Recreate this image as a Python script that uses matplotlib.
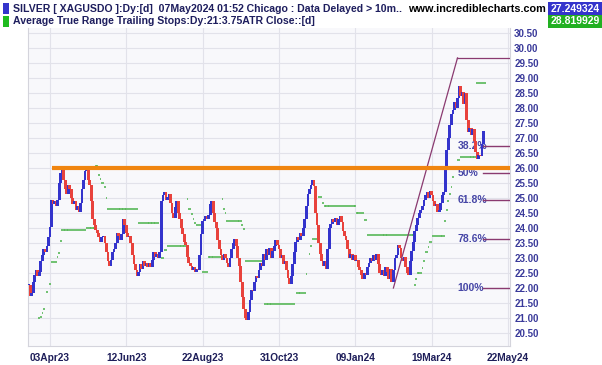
import matplotlib
matplotlib.use("Agg")
import matplotlib.pyplot as plt
from matplotlib.patches import Rectangle
import numpy as np

plt.rcParams['font.family'] = ['Liberation Sans', 'DejaVu Sans']

# ---------------- data ----------------
first_bar = -14  # bar index of first close (relative to 03Apr23 bar)
closes = [
    22.1, 21.75, 21.85, 22.2, 22.45, 22.6, 22.4, 22.55, 22.9, 23.1, 23.3, 23.2, 23.4, 23.7,          # -14..-1
    24.05, 24.95, 24.8, 24.9, 24.75, 24.95, 25.5, 25.85, 25.95, 25.6, 25.3, 25.15, 25.45, 25.3,   # 0..13
    25.0, 24.8, 24.9, 24.6, 24.75, 24.55, 24.85, 25.3, 25.6, 25.9, 26.0, 25.6, 25.45, 24.9,       # 14..27
    24.3, 24.1, 23.95, 23.85, 23.7, 23.55, 23.7, 23.75, 23.5, 23.2, 22.9, 22.75, 22.95, 23.2,     # 28..41
    23.3, 23.5, 23.85, 23.75, 23.6, 23.8, 24.3, 24.1, 23.85, 23.7, 23.75, 23.5, 23.1, 22.8,       # 42..55
    22.6, 22.4, 22.55, 22.8, 22.65, 22.9, 22.75, 22.85, 22.7, 22.85, 22.7, 22.95, 23.2, 23.05,    # 56..69
    23.15, 23.0, 23.2, 24.9, 25.1, 25.2, 24.95, 25.05, 25.15, 24.85, 24.5, 24.35, 24.7, 24.9,     # 70..83
    24.5, 24.3, 24.0, 23.8, 23.55, 23.45, 23.05, 22.85, 22.75, 22.6, 22.7, 22.55, 22.65, 22.6,    # 84..97
    23.1, 23.8, 24.25, 24.3, 24.4, 24.3, 24.45, 24.8, 24.9, 24.5, 24.2, 24.0, 23.6, 23.3,         # 98..111
    23.1, 22.95, 23.15, 23.0, 22.85, 22.7, 23.0, 23.3, 23.5, 23.65, 23.4, 23.0, 22.75, 22.2,      # 112..125
    21.7, 21.3, 21.0, 20.95, 21.2, 21.6, 21.95, 21.9, 22.2, 22.4, 22.35, 22.6, 22.85, 22.75,      # 126..139
    23.15, 22.95, 23.3, 23.1, 23.35, 23.0, 23.25, 23.4, 23.6, 23.45, 23.3, 23.0, 23.1, 22.8,      # 140..153
    22.9, 22.6, 22.35, 22.15, 22.4, 22.8, 23.2, 23.55, 23.7, 23.6, 23.85, 23.75, 24.0, 24.3,      # 154..167
    24.75, 25.15, 25.3, 25.45, 25.6, 25.4, 24.5, 24.1, 23.5, 23.15, 22.9, 22.75, 22.9, 22.65,     # 168..181
    23.3, 24.0, 24.15, 24.3, 24.2, 24.35, 24.1, 24.3, 24.4, 24.2, 23.9, 23.75, 23.6, 23.3,        # 182..195
    23.0, 23.15, 22.95, 23.1, 22.9, 22.95, 22.7, 22.6, 22.45, 22.3, 22.5, 22.45, 22.7, 22.85,     # 196..209
    23.0, 22.9, 23.1, 22.95, 23.15, 22.8, 22.5, 22.45, 22.6, 22.4, 22.7, 22.55, 22.3, 22.65,      # 210..223
    22.2, 22.6, 23.0, 23.1, 23.45, 23.35, 23.0, 22.9, 23.05, 22.7, 22.5, 22.45, 22.9, 23.25,      # 224..237
    23.55, 23.9, 24.1, 24.35, 24.5, 24.6, 24.75, 24.95, 25.1, 25.2, 25.0, 25.25, 25.1, 24.9,      # 238..251
    24.75, 24.8, 24.55, 24.6, 24.85, 25.1, 25.2, 26.0, 26.6, 27.0, 27.45, 27.8, 27.95, 28.2,      # 252..265
    28.0, 28.35, 28.75, 28.4, 28.55, 28.15, 28.5, 27.6, 27.2, 27.35, 27.1, 27.3, 26.9, 26.55,     # 266..279
    26.3, 26.45, 26.4, 26.8, 27.249324,                                                          # 280..284
]

# ATR trailing stop: (first bar, last bar, stop value)
atr_runs = [
    (-14, -14, 21.93), (-7, -7, 21.0), (-6, -6, 21.05), (-5, -5, 21.17), (-4, -4, 21.3),
    (-2, -2, 21.87), (0, 0, 22.13), (1, 4, 22.87), (5, 5, 23.03), (6, 6, 23.17), (7, 7, 23.57),
    (8, 23, 23.93), (24, 29, 24.0),
    (30, 31, 26.07), (32, 32, 25.77), (33, 33, 25.65), (34, 35, 25.5), (36, 36, 25.37),
    (37, 37, 25.0), (38, 57, 24.63), (58, 71, 24.17),
    (73, 74, 23.0), (75, 76, 23.27), (77, 89, 23.4),
    (90, 90, 24.97), (91, 92, 24.63), (93, 93, 24.47), (94, 94, 24.3), (95, 95, 24.17), (96, 99, 24.1),
    (100, 103, 22.53), (104, 112, 23.03),
    (113, 113, 24.97), (114, 114, 24.63), (115, 115, 24.5), (116, 125, 24.23), (126, 126, 24.1),
    (127, 127, 23.97), (128, 140, 22.9),
    (141, 160, 21.47), (162, 167, 21.83), (168, 168, 22.47), (170, 170, 23.13), (171, 171, 23.4),
    (172, 175, 23.63),
    (176, 178, 25.03), (179, 179, 24.85), (180, 200, 24.73), (201, 205, 24.5), (206, 207, 24.27),
    (208, 238, 23.77),
    (239, 239, 22.1), (240, 240, 22.3), (241, 243, 22.5), (244, 244, 22.67), (245, 245, 22.9),
    (246, 247, 23.2), (248, 248, 23.37), (249, 250, 23.55), (251, 258, 23.73), (259, 259, 24.23),
    (260, 260, 24.6), (261, 261, 24.9), (262, 262, 25.13), (263, 263, 25.37), (264, 264, 25.7),
    (265, 266, 26.0), (267, 268, 26.27), (269, 279, 26.37), (280, 285, 28.82),
]

resistance_level = 26.0
resistance_start = 1
fib_low = (225, 22.0)
fib_high = (267, 29.67)
fib_ratios = [0.382, 0.5, 0.618, 0.786, 1.0]
fib_labels = ["38.2%", "50%", "61.8%", "78.6%", "100%"]

tick_labels = ['03Apr23', '12Jun23', '22Aug23', '31Oct23', '09Jan24', '19Mar24', '22May24']
bars_per_tick = 50
y_ticks = np.arange(20.5, 30.51, 0.5)

header1 = "SILVER [ XAGUSDO ]:Dy:[d]  07May2024 01:52 Chicago : Data Delayed > 10m.."
header2 = "Average True Range Trailing Stops:Dy:21:3.75ATR Close::[d]"
site = "www.incrediblecharts.com"
last_close_txt = "27.249324"
last_stop_txt = "28.819929"

# ---------------- figure ----------------
W, H = 602, 365
fig = plt.figure(figsize=(W / 100, H / 100), dpi=100, facecolor='white')
ax = fig.add_axes([28 / W, 19 / H, 482 / W, 318 / H])
ax.set_facecolor('#f8f8fb')
ax.set_xlim(-14.4, 301.4)
ax.set_ylim(20.067, 30.667)

navy = '#2a2a7a'
for s in ax.spines.values():
    s.set_color('#d4d4dc')
    s.set_linewidth(0.8)
ax.spines['top'].set_visible(False)

ax.set_yticks(y_ticks)
ax.set_yticklabels([f"{v:.2f}" for v in y_ticks])
ax.yaxis.tick_right()
ax.tick_params(axis='y', length=0, pad=3, labelsize=7, labelcolor='#3a3a9a')
for lab in ax.get_yticklabels():
    lab.set_fontweight('bold')

xt = [i * bars_per_tick for i in range(len(tick_labels))]
ax.set_xticks(xt)
ax.set_xticklabels(tick_labels)
ax.tick_params(axis='x', length=0, pad=5, labelsize=7.3, labelcolor='#1e1e5a')
for lab in ax.get_xticklabels():
    lab.set_fontweight('bold')

ax.grid(True, color='#e2e2ea', linewidth=0.8, zorder=0)
ax.set_axisbelow(True)

# candles: body from previous close to close
idx = np.arange(first_bar, first_bar + len(closes))
c = np.array(closes)
o = np.concatenate([[c[0]], c[:-1]])
bottoms = np.minimum(o, c)
heights = np.maximum(np.abs(c - o), 0.035)
colors = np.where(c >= o, '#3434cc', '#e8423c')
ax.bar(idx, heights, bottom=bottoms, width=1.85, color=colors, linewidth=0, zorder=3)

# ATR trailing stop dashes
for a, b, v in atr_runs:
    for i in range(a, b + 1):
        ax.plot([i - 0.55, i + 0.55], [v, v], color='#58b858', lw=1.2,
                solid_capstyle='butt', zorder=2)

# Fibonacci retracement
fx0, fy0 = fib_low
fx1, fy1 = fib_high
fib_col = '#8a3a70'
ax.plot([fx0, fx1], [fy0, fy1], color=fib_col, lw=0.9, zorder=4)
ax.plot([fx1, 301.4], [fy1, fy1], color=fib_col, lw=0.9, zorder=4)
for r, lab in zip(fib_ratios, fib_labels):
    lvl = fy1 - r * (fy1 - fy0)
    ax.plot([283.5, 301.4], [lvl, lvl], color=fib_col, lw=1.0, zorder=4)
    ax.text(fx1, lvl, lab, color='#4646a6', fontsize=7.5, fontweight='bold',
            va='center', ha='left', zorder=1)

# resistance line
ax.plot([resistance_start, 301.4], [resistance_level, resistance_level],
        color='#f0850f', lw=3.0, solid_capstyle='butt', zorder=5)

# header
def fx(px):
    return px / W

def fy(py):
    return 1 - py / H

fig.patches.append(Rectangle((fx(3), fy(14)), 6 / W, 11 / H, transform=fig.transFigure,
                             facecolor='#3434cc', edgecolor='none'))
fig.patches.append(Rectangle((fx(3), fy(27)), 6 / W, 11 / H, transform=fig.transFigure,
                             facecolor='#1fbb1f', edgecolor='none'))
fig.text(fx(13), fy(8.5), header1, fontsize=7.6, fontweight='bold', color='#1e1e5e', va='center')
fig.text(fx(13), fy(21.5), header2, fontsize=7.6, fontweight='bold', color='#1e1e5e', va='center')
fig.text(fx(408), fy(8.5), site, fontsize=7.8, fontweight='bold', color='black', va='center')

fig.patches.append(Rectangle((fx(548), fy(15)), 54 / W, 13 / H, transform=fig.transFigure,
                             facecolor='#3434cc', edgecolor='none'))
fig.patches.append(Rectangle((fx(548), fy(28)), 54 / W, 13 / H, transform=fig.transFigure,
                             facecolor='#22b022', edgecolor='none'))
fig.text(fx(575), fy(8.5), last_close_txt, fontsize=7.5, fontweight='bold', color='white',
         va='center', ha='center')
fig.text(fx(575), fy(21.5), last_stop_txt, fontsize=7.5, fontweight='bold', color='white',
         va='center', ha='center')

fig.savefig('out.png', dpi=100, facecolor='white')
